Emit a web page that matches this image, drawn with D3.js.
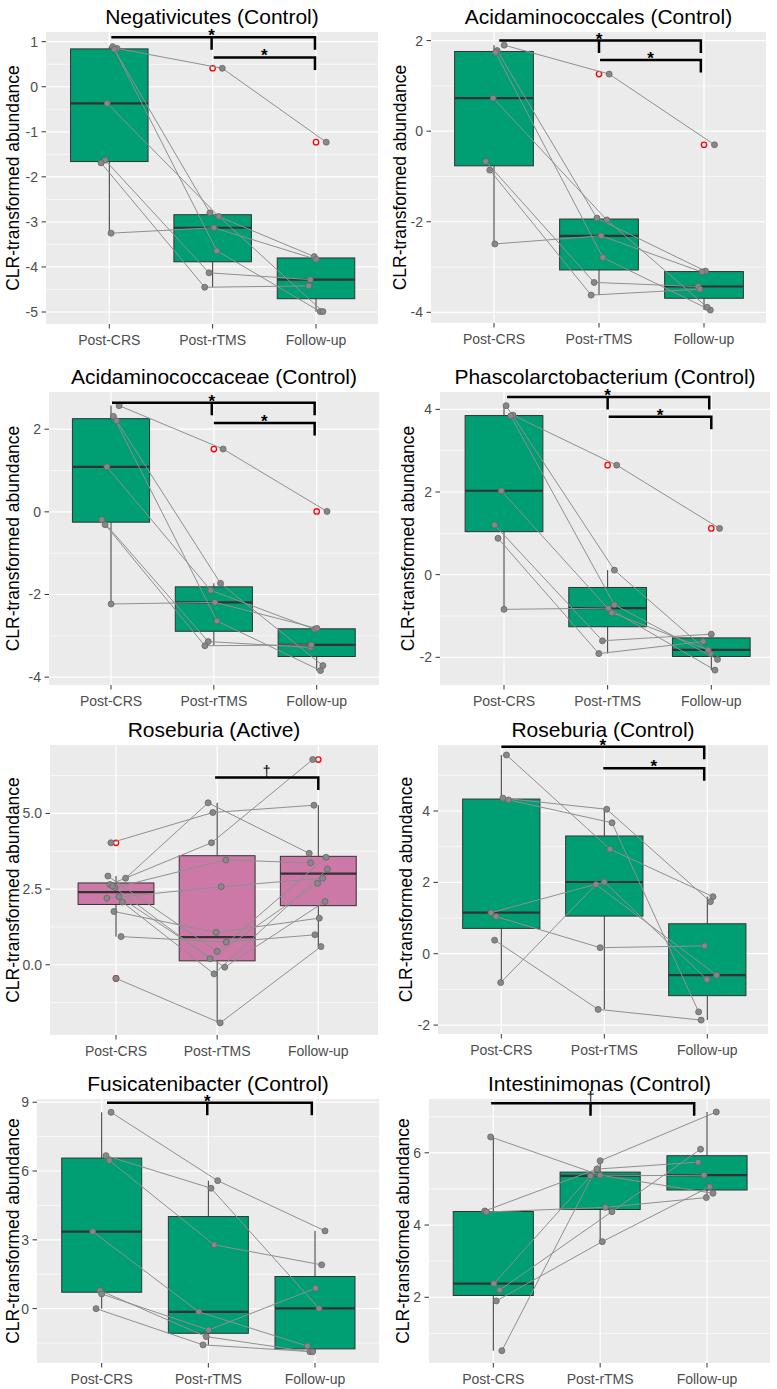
<!DOCTYPE html>
<html lang="en">
<head>
<meta charset="UTF-8">
<title>CLR-transformed abundance</title>
<style>
  body { margin: 0; background: #fff; }
  svg { display: block; font-family: "Liberation Sans", Arial, sans-serif; }
  .panel-bg { fill: #ebebeb; }
  .grid-major { stroke: #fff; stroke-width: 1.2px; }
  .grid-minor { stroke: #fff; stroke-width: 0.6px; }
  .box { stroke: #333; stroke-width: 1px; }
  .median { stroke: #333; stroke-width: 2.2px; }
  .whisker { stroke: #333; stroke-width: 1px; }
  .outlier { fill: none; stroke: #f00; stroke-width: 1.3px; }
  .subject { fill: none; stroke: #8f8f8f; stroke-width: 1px; }
  .point { fill: #888; stroke: #666; stroke-width: 0.8px; }
  .bracket { fill: none; stroke: #000; stroke-width: 2.5px; }
  .tick { stroke: #333; stroke-width: 1px; }
  .tick-label { fill: #4d4d4d; font-size: 14px; }
  .axis-title { fill: #000; font-size: 17.5px; }
  .plot-title { fill: #000; font-size: 21px; }
  .sig { fill: #000; }
</style>
</head>
<body>
<script src="https://cdnjs.cloudflare.com/ajax/libs/d3/7.8.5/d3.min.js"></script>
<script>

var width = 777,
    height = 1389;

var categories = ["Post-CRS", "Post-rTMS", "Follow-up"];

var titles = [
  "Negativicutes (Control)", "Acidaminococcales (Control)",
  "Acidaminococcaceae (Control)", "Phascolarctobacterium (Control)",
  "Roseburia (Active)", "Roseburia (Control)",
  "Fusicatenibacter (Control)", "Intestinimonas (Control)"
];

// one row per subject: [Post-CRS, Post-rTMS, Follow-up]
var negativicutesValues = [
  [0.85, 0.41, -1.23], [0.89, -2.80, -3.77], [0.83, -3.64, -4.99], [-0.37, -2.88, -4.99],
  [-1.63, -4.13, -4.28], [-1.69, -4.45, -4.42], [-3.25, -3.13, -3.83]
];
var acidaminococcalesValues = [
  [1.90, 1.26, -0.30], [1.78, -1.92, -3.09], [1.74, -2.79, -3.95], [0.73, -1.96, -3.89],
  [-0.67, -3.34, -3.43], [-0.86, -3.62, -3.49], [-2.49, -2.31, -3.11]
];
var acidaminococcaceaeValues = [
  [2.57, 1.52, 0.01], [2.31, -2.64, -3.84], [2.20, -1.73, -3.72], [1.09, -1.90, -2.84],
  [-0.19, -3.14, -3.28], [-0.31, -3.24, -3.22], [-2.23, -2.19, -2.82]
];
var phascolarctobacteriumValues = [
  [3.86, 2.65, 1.12], [4.09, 0.11, -1.91], [3.84, -0.73, -2.05], [2.03, -0.92, -1.82],
  [1.20, -1.60, -1.44], [0.88, -1.91, -1.62], [-0.84, -0.81, -2.31]
];
var roseburiaActiveValues = [
  [4.03, 5.03, 5.27], [-0.45, -1.92, 0.60], [0.93, 0.75, 0.99], [1.76, 1.07, 1.54],
  [2.86, 5.35, 3.68], [2.65, 4.03, 6.78], [2.20, 2.58, 2.86], [2.55, 3.46, 3.37],
  [2.93, 0.44, 3.55], [2.60, 0.20, 2.69], [2.25, -0.08, 2.09], [2.07, -0.30, 3.16]
];
var roseburiaControlValues = [
  [5.57, 2.93, 1.60], [4.36, 4.05, 1.46], [4.31, 3.67, -1.63], [1.15, 2.01, -0.72],
  [1.04, 0.17, 0.22], [0.38, -1.56, -1.86], [-0.81, 1.94, -0.60]
];
var fusicatenibacterValues = [
  [8.56, 5.58, 3.39], [6.67, 5.25, 0.01], [6.46, 2.78, 1.91], [3.36, -0.14, -1.63],
  [0.79, -1.22, -1.88], [0.64, -0.93, 0.89], [0.00, -1.58, -1.88]
];
var intestinimonasValues = [
  [6.44, 5.38, 4.88], [4.39, 5.55, 5.74], [4.36, 4.49, 4.76], [2.38, 5.36, 5.38],
  [2.20, 4.37, 6.10], [1.90, 3.54, 5.06], [0.52, 5.78, 7.13]
];

// horizontal jitter of each point, as a share of the category step
var negativicutesJitter = [
  [0.075, 0.093, 0.099], [0.033, -0.026, -0.017], [0.05, 0.04, 0.041], [-0.02, 0.06, 0.067],
  [-0.04, -0.035, -0.056], [-0.08, -0.077, -0.07], [0.017, 0.013, 0.002]
];
var acidaminococcalesJitter = [
  [0.097, 0.097, 0.1], [0.03, -0.02, 0.014], [0.015, 0.037, 0.06], [-0.008, 0.075, 0.03],
  [-0.078, -0.046, -0.056], [-0.04, -0.075, -0.04], [0.008, 0.02, -0.018]
];
var acidaminococcaceaeJitter = [
  [0.079, 0.09, 0.1], [0.024, 0.03, 0.037], [0.056, 0.065, 0.06], [-0.04, -0.03, -0.02],
  [-0.089, -0.055, -0.06], [-0.057, -0.087, -0.053], [0.001, 0.01, 0.002]
];
var phascolarctobacteriumJitter = [
  [0.087, 0.087, 0.08], [0.02, 0.065, -0.01], [0.065, 0.065, 0.06], [-0.026, 0.04, -0.03],
  [-0.09, -0.05, 0], [-0.058, -0.085, -0.08], [0, 0.006, 0.035]
];
var roseburiaActiveJitter = [
  [-0.05, -0.043, -0.043], [0, 0.03, 0.026], [0.05, 0.09, -0.033], [-0.02, -0.01, 0.01],
  [0.095, -0.089, -0.09], [-0.06, -0.056, -0.055], [-0.09, 0.04, 0.043], [-0.01, 0.086, -0.076],
  [-0.08, 0, 0.076], [-0.035, -0.07, -0.007], [0.03, 0.075, 0.066], [0.063, -0.03, 0.09]
];
var roseburiaControlJitter = [
  [0.05, 0.055, 0.055], [0.016, 0.023, 0.03], [0.07, 0.075, -0.084], [-0.1, 0, -0.003],
  [-0.05, -0.04, -0.026], [-0.065, -0.06, -0.06], [-0.006, -0.08, 0.09]
];
var fusicatenibacterJitter = [
  [0.0875, 0.0875, 0.094], [0.04, 0.025, 0.0375], [0.072, 0.056, 0.0625], [-0.084, -0.09, -0.072],
  [-0.016, -0.02, -0.047], [0, 0.003, 0.006], [-0.053, -0.05, -0.022]
];
var intestinimonasJitter = [
  [-0.025, 0, 0.056], [-0.08, -0.03, -0.084], [-0.065, 0.05, -0.006], [0.006, -0.09, -0.028],
  [0.06, 0.11, -0.06], [0.028, 0.02, 0.025], [0.08, 0, 0.087]
];

// y-axis breaks per panel
var negativicutesTicks = [1, 0, -1, -2, -3, -4, -5];
var acidaminococcalesTicks = [2, 0, -2, -4];
var acidaminococcaceaeTicks = [2, 0, -2, -4];
var phascolarctobacteriumTicks = [4, 2, 0, -2];
var roseburiaActiveTicks = [5, 2.5, 0];
var roseburiaControlTicks = [4, 2, 0, -2];
var fusicatenibacterTicks = [9, 6, 3, 0];
var intestinimonasTicks = [6, 4, 2];

// significance brackets: category positions (1-based), level, label
var negativicutesBrackets = [
  {from: 1.02, to: 2.99, mid: 1.99, y: 1.10, label: "*"},
  {from: 2.01, to: 2.99, y: 0.65, label: "*"}
];
var acidaminococcalesBrackets = [
  {from: 1.05, to: 2.97, mid: 2.0, y: 2.0, label: "*"},
  {from: 2.01, to: 2.97, y: 1.57, label: "*"}
];
var acidaminococcaceaeBrackets = [
  {from: 1.01, to: 2.98, mid: 1.98, y: 2.64, label: "*"},
  {from: 2.0, to: 2.98, y: 2.15, label: "*"}
];
var phascolarctobacteriumBrackets = [
  {from: 1.03, to: 2.98, mid: 2.0, y: 4.30, label: "*"},
  {from: 2.01, to: 3.0, y: 3.82, label: "*"}
];
var roseburiaActiveBrackets = [
  {from: 1.98, to: 3.0, y: 6.19, label: "\u2020"}
];
var roseburiaControlBrackets = [
  {from: 1.0, to: 2.97, y: 5.80, label: "*"},
  {from: 1.99, to: 2.97, y: 5.20, label: "*"}
];
var fusicatenibacterBrackets = [
  {from: 1.05, to: 2.97, mid: 1.99, y: 8.98, label: "*"}
];
var intestinimonasBrackets = [
  {from: 0.98, to: 2.88, mid: 1.91, y: 7.37, label: "\u2020"}
];

var controlFill = "#009e73",
    activeFill = "#cc79a7";

var panels = [
  {values: negativicutesValues, jitter: negativicutesJitter, ticks: negativicutesTicks, brackets: negativicutesBrackets, fill: controlFill},
  {values: acidaminococcalesValues, jitter: acidaminococcalesJitter, ticks: acidaminococcalesTicks, brackets: acidaminococcalesBrackets, fill: controlFill},
  {values: acidaminococcaceaeValues, jitter: acidaminococcaceaeJitter, ticks: acidaminococcaceaeTicks, brackets: acidaminococcaceaeBrackets, fill: controlFill},
  {values: phascolarctobacteriumValues, jitter: phascolarctobacteriumJitter, ticks: phascolarctobacteriumTicks, brackets: phascolarctobacteriumBrackets, fill: controlFill},
  {values: roseburiaActiveValues, jitter: roseburiaActiveJitter, ticks: roseburiaActiveTicks, brackets: roseburiaActiveBrackets, fill: activeFill, fmt: ".1f"},
  {values: roseburiaControlValues, jitter: roseburiaControlJitter, ticks: roseburiaControlTicks, brackets: roseburiaControlBrackets, fill: controlFill},
  {values: fusicatenibacterValues, jitter: fusicatenibacterJitter, ticks: fusicatenibacterTicks, brackets: fusicatenibacterBrackets, fill: controlFill},
  {values: intestinimonasValues, jitter: intestinimonasJitter, ticks: intestinimonasTicks, brackets: intestinimonasBrackets, fill: controlFill}
];

// where each panel sits on the page
var layout = [
  {rect: [46, 32, 378, 324], cats: [109.3, 316], domain: [-5.266, 1.215], titleX: 12.5},
  {rect: [431, 32, 766, 323], cats: [494, 704], domain: [-4.236, 2.19], titleX: 399.5},
  {rect: [49, 392, 379, 685], cats: [111, 316.7], domain: [-4.19, 2.90], titleX: 12.5},
  {rect: [440, 392, 770, 685], cats: [504, 711.3], domain: [-2.67, 4.42], titleX: 408},
  {rect: [50, 745, 378, 1035], cats: [116, 318.3], domain: [-2.32, 7.26], titleX: 12.5},
  {rect: [438, 745, 768, 1034], cats: [501.3, 707.3], domain: [-2.25, 5.85], titleX: 406},
  {rect: [37, 1099, 379, 1363], cats: [101.7, 315], domain: [-2.37, 9.14], titleX: 12.5},
  {rect: [429, 1099, 770, 1363], cats: [493.3, 707], domain: [0.18, 7.49], titleX: 403}
];

var svg = d3.select("body").append("svg")
  .attr("width", width)
  .attr("height", height);

panels.forEach(function(p, i) {
  drawPanel(svg.append("g"), p, layout[i], titles[i]);
});

function boxStats(vals) {
  var s = vals.slice().sort(d3.ascending),
      q1 = d3.quantile(s, 0.25),
      med = d3.quantile(s, 0.5),
      q3 = d3.quantile(s, 0.75),
      iqr = q3 - q1,
      inside = s.filter(function(v){ return v >= q1 - 1.5 * iqr && v <= q3 + 1.5 * iqr; });
  return {
    q1: q1, med: med, q3: q3,
    lo: d3.min(inside), hi: d3.max(inside),
    out: s.filter(function(v){ return v < q1 - 1.5 * iqr || v > q3 + 1.5 * iqr; })
  };
}

function drawPanel(g, p, lay, title) {

  var left = lay.rect[0], top = lay.rect[1], right = lay.rect[2], bottom = lay.rect[3];

  var x = d3.scalePoint().domain(categories).range(lay.cats).padding(0);
  var step = x.step();
  var y = d3.scaleLinear().domain(lay.domain).range([bottom, top]);

  function xPos(k) { return x(categories[0]) + (k - 1) * step; }

  g.append("rect")
    .attr("class", "panel-bg")
    .attr("x", left).attr("y", top)
    .attr("width", right - left).attr("height", bottom - top);

  // minor breaks halfway between the major ones
  var half = Math.abs(p.ticks[0] - p.ticks[1]) / 2,
      minors = d3.range(d3.min(p.ticks) - half, d3.max(p.ticks) + half * 1.5, half * 2)
        .filter(function(v){ return v > lay.domain[0] && v < lay.domain[1]; });

  g.selectAll(".grid-minor")
    .data(minors)
    .enter().append("line")
      .attr("class", "grid-minor")
      .attr("x1", left).attr("x2", right)
      .attr("y1", y).attr("y2", y);

  g.selectAll(".grid-major.h")
    .data(p.ticks)
    .enter().append("line")
      .attr("class", "grid-major h")
      .attr("x1", left).attr("x2", right)
      .attr("y1", y).attr("y2", y);

  g.selectAll(".grid-major.v")
    .data(categories)
    .enter().append("line")
      .attr("class", "grid-major v")
      .attr("x1", x).attr("x2", x)
      .attr("y1", top).attr("y2", bottom);

  // boxplots
  var stats = categories.map(function(c, k) {
    var st = boxStats(p.values.map(function(r){ return r[k]; }));
    st.cat = c;
    return st;
  });
  var bw = step * 0.75;

  var boxes = g.selectAll(".boxplot")
    .data(stats)
    .enter().append("g")
      .attr("class", "boxplot");

  boxes.append("line")
    .attr("class", "whisker")
    .attr("x1", function(d){ return x(d.cat); })
    .attr("x2", function(d){ return x(d.cat); })
    .attr("y1", function(d){ return y(d.hi); })
    .attr("y2", function(d){ return y(d.q3); });

  boxes.append("line")
    .attr("class", "whisker")
    .attr("x1", function(d){ return x(d.cat); })
    .attr("x2", function(d){ return x(d.cat); })
    .attr("y1", function(d){ return y(d.q1); })
    .attr("y2", function(d){ return y(d.lo); });

  boxes.append("rect")
    .attr("class", "box")
    .attr("fill", p.fill)
    .attr("x", function(d){ return x(d.cat) - bw / 2; })
    .attr("y", function(d){ return y(d.q3); })
    .attr("width", bw)
    .attr("height", function(d){ return y(d.q1) - y(d.q3); });

  boxes.append("line")
    .attr("class", "median")
    .attr("x1", function(d){ return x(d.cat) - bw / 2; })
    .attr("x2", function(d){ return x(d.cat) + bw / 2; })
    .attr("y1", function(d){ return y(d.med); })
    .attr("y2", function(d){ return y(d.med); });

  boxes.each(function(d) {
    d3.select(this).selectAll(".outlier")
      .data(d.out)
      .enter().append("circle")
        .attr("class", "outlier")
        .attr("cx", x(d.cat))
        .attr("cy", y)
        .attr("r", 2.7);
  });

  // paired subject lines and jittered points
  var subjects = p.values.map(function(row, s) {
    return row.map(function(v, k) {
      return [x(categories[k]) + p.jitter[s][k] * step, y(v)];
    });
  });

  g.selectAll(".subject")
    .data(subjects)
    .enter().append("path")
      .attr("class", "subject")
      .attr("d", d3.line());

  g.selectAll(".point")
    .data(d3.merge(subjects))
    .enter().append("circle")
      .attr("class", "point")
      .attr("cx", function(d){ return d[0]; })
      .attr("cy", function(d){ return d[1]; })
      .attr("r", 3);

  // significance brackets
  var tip = 12.5;
  p.brackets.forEach(function(b) {
    var by = y(b.y),
        path = "M" + xPos(b.from) + "," + by + "H" + xPos(b.to) + "V" + (by + tip);
    if (b.mid) path += "M" + xPos(b.mid) + "," + by + "V" + (by + tip);
    g.append("path")
      .attr("class", "bracket")
      .attr("d", path);
    var star = b.label === "*";
    g.append("text")
      .attr("class", "sig")
      .attr("x", xPos(b.mid || (b.from + b.to) / 2))
      .attr("y", star ? by + 4 : by - 1)
      .attr("text-anchor", "middle")
      .style("font-size", star ? "17px" : "14px")
      .style("font-weight", star ? "bold" : "normal")
      .text(b.label);
  });

  // axes
  var fmt = p.fmt ? d3.format(p.fmt) : String;

  g.selectAll(".ytick")
    .data(p.ticks)
    .enter().append("line")
      .attr("class", "tick")
      .attr("x1", left - 4.5).attr("x2", left)
      .attr("y1", y).attr("y2", y);

  g.selectAll(".ylabel")
    .data(p.ticks)
    .enter().append("text")
      .attr("class", "tick-label")
      .attr("x", left - 8)
      .attr("y", y)
      .attr("dy", "0.35em")
      .attr("text-anchor", "end")
      .text(function(d){ return fmt(d); });

  g.selectAll(".xtick")
    .data(categories)
    .enter().append("line")
      .attr("class", "tick")
      .attr("x1", x).attr("x2", x)
      .attr("y1", bottom).attr("y2", bottom + 4.5);

  g.selectAll(".xlabel")
    .data(categories)
    .enter().append("text")
      .attr("class", "tick-label")
      .attr("x", x)
      .attr("y", bottom + 21)
      .attr("text-anchor", "middle")
      .text(function(d){ return d; });

  g.append("text")
    .attr("class", "axis-title")
    .attr("transform", "translate(" + lay.titleX + "," + ((top + bottom) / 2) + ") rotate(-90)")
    .attr("dy", "0.35em")
    .attr("text-anchor", "middle")
    .text("CLR-transformed abundance");

  g.append("text")
    .attr("class", "plot-title")
    .attr("x", (left + right) / 2)
    .attr("y", top - 8)
    .attr("text-anchor", "middle")
    .text(title);
}

</script>
</body>
</html>
